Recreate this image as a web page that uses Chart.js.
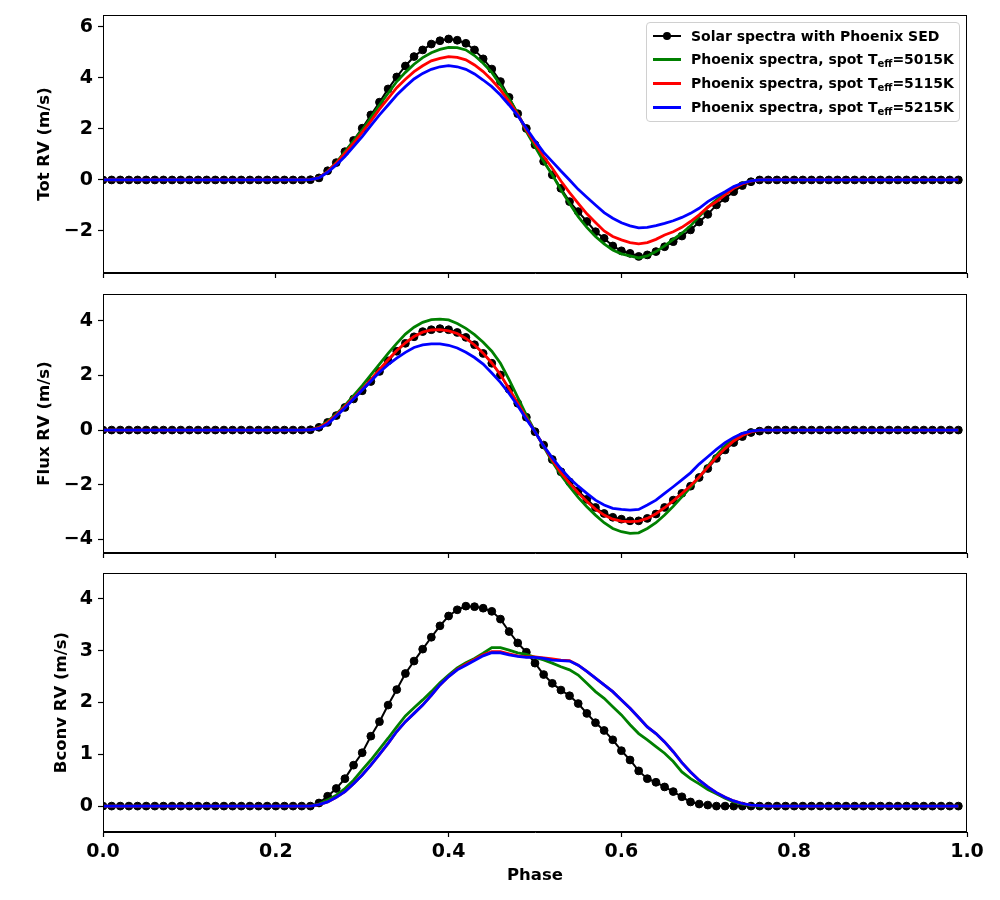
<!DOCTYPE html>
<html>
<head>
<meta charset="utf-8">
<title>Phase RV curves</title>
<script src="https://cdn.jsdelivr.net/npm/chart.js@4.4.0/dist/chart.umd.min.js"></script>
<style>
    html, body { margin: 0; padding: 0; background: #fff; }
    #figure { position: relative; width: 1000px; height: 900px; overflow: hidden; }
    #figure canvas { position: absolute; left: 0; }
    #legend {
        position: absolute; left: 646px; top: 22px; width: 314px; height: 100px;
        border: 1px solid #d0d0d0; border-radius: 4px; background: rgba(255,255,255,0.85);
        font-family: 'DejaVu Sans', sans-serif; font-weight: bold; font-size: 14px; color: #000;
        box-sizing: border-box; z-index: 5;
    }
    #legend .row { position: absolute; left: 6px; height: 20px; line-height: 20px; white-space: nowrap; }
    #legend .handle { display: inline-block; position: relative; width: 28px; height: 3px; vertical-align: middle; margin-right: 10px; top: -1px; }
    #legend .dot { position: absolute; left: 10px; top: -3px; width: 8px; height: 8px; border-radius: 50%; background: #000; }
    #legend sub { font-size: 10px; vertical-align: -3px; }
</style>
</head>
<body>
<div id="figure">
    <canvas id="totChart" width="1000" height="295" style="top:-5px"></canvas>
    <canvas id="fluxChart" width="1000" height="295" style="top:275px"></canvas>
    <canvas id="bconvChart" width="1000" height="345" style="top:555px"></canvas>
    <div id="legend">
        <div class="row" style="top:3px"><span class="handle" style="background:#000;height:2px"><span class="dot"></span></span>Solar spectra with Phoenix SED</div>
        <div class="row" style="top:26px"><span class="handle" style="background:#008000"></span>Phoenix spectra, spot T<sub>eff</sub>=5015K</div>
        <div class="row" style="top:50px"><span class="handle" style="background:#ff0000"></span>Phoenix spectra, spot T<sub>eff</sub>=5115K</div>
        <div class="row" style="top:74px"><span class="handle" style="background:#0000ff"></span>Phoenix spectra, spot T<sub>eff</sub>=5215K</div>
    </div>
</div>
<script>
// phase grid (x values)
const phase = [
    0.00, 0.01, 0.02, 0.03, 0.04, 0.05, 0.06, 0.07, 0.08, 0.09,
    0.10, 0.11, 0.12, 0.13, 0.14, 0.15, 0.16, 0.17, 0.18, 0.19,
    0.20, 0.21, 0.22, 0.23, 0.24, 0.25, 0.26, 0.27, 0.28, 0.29,
    0.30, 0.31, 0.32, 0.33, 0.34, 0.35, 0.36, 0.37, 0.38, 0.39,
    0.40, 0.41, 0.42, 0.43, 0.44, 0.45, 0.46, 0.47, 0.48, 0.49,
    0.50, 0.51, 0.52, 0.53, 0.54, 0.55, 0.56, 0.57, 0.58, 0.59,
    0.60, 0.61, 0.62, 0.63, 0.64, 0.65, 0.66, 0.67, 0.68, 0.69,
    0.70, 0.71, 0.72, 0.73, 0.74, 0.75, 0.76, 0.77, 0.78, 0.79,
    0.80, 0.81, 0.82, 0.83, 0.84, 0.85, 0.86, 0.87, 0.88, 0.89,
    0.90, 0.91, 0.92, 0.93, 0.94, 0.95, 0.96, 0.97, 0.98, 0.99
];

// Tot RV (m/s)
const totSolar = [
    0, 0, 0, 0, 0, 0, 0, 0, 0, 0,
    0, 0, 0, 0, 0, 0, 0, 0, 0, 0,
    0, 0, 0, 0, 0.01, 0.08, 0.36, 0.68, 1.11, 1.55,
    2.03, 2.55, 3.05, 3.57, 4.04, 4.47, 4.84, 5.10, 5.33, 5.46,
    5.53, 5.48, 5.36, 5.10, 4.75, 4.35, 3.86, 3.24, 2.60, 2.02,
    1.38, 0.73, 0.20, -0.33, -0.85, -1.24, -1.63, -2.03, -2.29, -2.59,
    -2.78, -2.88, -3.00, -2.94, -2.81, -2.62, -2.42, -2.20, -1.96, -1.65,
    -1.35, -0.98, -0.72, -0.46, -0.22, -0.07, 0, 0, 0, 0,
    0, 0, 0, 0, 0, 0, 0, 0, 0, 0,
    0, 0, 0, 0, 0, 0, 0, 0, 0, 0
];
const totSpot5015 = [
    0, 0, 0, 0, 0, 0, 0, 0, 0, 0,
    0, 0, 0, 0, 0, 0, 0, 0, 0, 0,
    0, 0, 0, 0, 0.01, 0.10, 0.33, 0.68, 1.11, 1.53,
    1.96, 2.44, 2.94, 3.40, 3.86, 4.22, 4.54, 4.80, 4.99, 5.12,
    5.20, 5.19, 5.10, 4.88, 4.58, 4.22, 3.73, 3.20, 2.61, 1.90,
    1.31, 0.72, 0.20, -0.39, -0.92, -1.44, -1.86, -2.22, -2.51, -2.75,
    -2.90, -2.98, -3.06, -2.98, -2.81, -2.59, -2.33, -2.09, -1.80, -1.44,
    -1.07, -0.78, -0.52, -0.29, -0.13, -0.04, 0, 0, 0, 0,
    0, 0, 0, 0, 0, 0, 0, 0, 0, 0,
    0, 0, 0, 0, 0, 0, 0, 0, 0, 0
];
const totSpot5115 = [
    0, 0, 0, 0, 0, 0, 0, 0, 0, 0,
    0, 0, 0, 0, 0, 0, 0, 0, 0, 0,
    0, 0, 0, 0, 0.01, 0.09, 0.33, 0.66, 1.05, 1.44,
    1.87, 2.31, 2.78, 3.20, 3.62, 3.95, 4.25, 4.48, 4.67, 4.77,
    4.84, 4.81, 4.71, 4.51, 4.25, 3.92, 3.53, 3.07, 2.58, 1.96,
    1.44, 0.92, 0.46, -0.04, -0.50, -0.92, -1.33, -1.67, -2.00, -2.22,
    -2.35, -2.46, -2.51, -2.46, -2.33, -2.16, -2.03, -1.86, -1.63, -1.37,
    -1.07, -0.85, -0.59, -0.33, -0.16, -0.05, 0, 0, 0, 0,
    0, 0, 0, 0, 0, 0, 0, 0, 0, 0,
    0, 0, 0, 0, 0, 0, 0, 0, 0, 0
];
const totSpot5215 = [
    0, 0, 0, 0, 0, 0, 0, 0, 0, 0,
    0, 0, 0, 0, 0, 0, 0, 0, 0, 0,
    0, 0, 0, 0, 0.01, 0.08, 0.30, 0.59, 0.92, 1.31,
    1.70, 2.13, 2.55, 2.94, 3.33, 3.66, 3.96, 4.18, 4.34, 4.44,
    4.48, 4.44, 4.34, 4.16, 3.92, 3.66, 3.33, 2.94, 2.52, 2.03,
    1.54, 1.08, 0.72, 0.35, 0.00, -0.37, -0.68, -0.98, -1.28, -1.50,
    -1.68, -1.80, -1.88, -1.86, -1.79, -1.70, -1.60, -1.47, -1.31, -1.11,
    -0.85, -0.65, -0.46, -0.26, -0.13, -0.04, 0, 0, 0, 0,
    0, 0, 0, 0, 0, 0, 0, 0, 0, 0,
    0, 0, 0, 0, 0, 0, 0, 0, 0, 0
];

// Flux RV (m/s)
const fluxSolar = [
    0, 0, 0, 0, 0, 0, 0, 0, 0, 0,
    0, 0, 0, 0, 0, 0, 0, 0, 0, 0,
    0, 0, 0, 0, 0.01, 0.10, 0.28, 0.53, 0.83, 1.14,
    1.44, 1.78, 2.15, 2.54, 2.89, 3.18, 3.42, 3.61, 3.68, 3.72,
    3.68, 3.58, 3.40, 3.13, 2.81, 2.45, 2.02, 1.50, 0.98, 0.47,
    -0.06, -0.55, -1.08, -1.53, -1.90, -2.23, -2.54, -2.84, -3.06, -3.20,
    -3.27, -3.33, -3.33, -3.24, -3.08, -2.84, -2.57, -2.32, -2.06, -1.74,
    -1.41, -1.04, -0.73, -0.46, -0.24, -0.09, -0.04, 0, 0, 0,
    0, 0, 0, 0, 0, 0, 0, 0, 0, 0,
    0, 0, 0, 0, 0, 0, 0, 0, 0, 0
];
const fluxSpot5015 = [
    0, 0, 0, 0, 0, 0, 0, 0, 0, 0,
    0, 0, 0, 0, 0, 0, 0, 0, 0, 0,
    0, 0, 0, 0, 0.01, 0.10, 0.32, 0.59, 0.90, 1.26,
    1.63, 2.02, 2.42, 2.81, 3.18, 3.52, 3.77, 3.95, 4.05, 4.07,
    4.04, 3.91, 3.73, 3.50, 3.22, 2.89, 2.45, 1.85, 1.20, 0.55,
    -0.05, -0.61, -1.16, -1.65, -2.08, -2.47, -2.81, -3.12, -3.40, -3.61,
    -3.73, -3.79, -3.77, -3.61, -3.40, -3.12, -2.80, -2.45, -2.10, -1.74,
    -1.32, -0.92, -0.58, -0.32, -0.13, -0.04, 0, 0, 0, 0,
    0, 0, 0, 0, 0, 0, 0, 0, 0, 0,
    0, 0, 0, 0, 0, 0, 0, 0, 0, 0
];
const fluxSpot5115 = [
    0, 0, 0, 0, 0, 0, 0, 0, 0, 0,
    0, 0, 0, 0, 0, 0, 0, 0, 0, 0,
    0, 0, 0, 0, 0.01, 0.09, 0.28, 0.55, 0.86, 1.18,
    1.50, 1.85, 2.22, 2.58, 2.92, 3.20, 3.43, 3.59, 3.67, 3.68,
    3.64, 3.54, 3.36, 3.12, 2.82, 2.46, 2.03, 1.52, 0.98, 0.45,
    -0.07, -0.58, -1.10, -1.56, -1.95, -2.30, -2.62, -2.90, -3.12, -3.27,
    -3.34, -3.36, -3.34, -3.24, -3.07, -2.85, -2.60, -2.33, -2.04, -1.72,
    -1.36, -1.00, -0.68, -0.40, -0.20, -0.07, 0, 0, 0, 0,
    0, 0, 0, 0, 0, 0, 0, 0, 0, 0,
    0, 0, 0, 0, 0, 0, 0, 0, 0, 0
];
const fluxSpot5215 = [
    0, 0, 0, 0, 0, 0, 0, 0, 0, 0,
    0, 0, 0, 0, 0, 0, 0, 0, 0, 0,
    0, 0, 0, 0, 0.01, 0.06, 0.22, 0.51, 0.81, 1.14,
    1.47, 1.79, 2.12, 2.40, 2.64, 2.85, 3.03, 3.12, 3.16, 3.16,
    3.11, 3.01, 2.85, 2.66, 2.42, 2.09, 1.75, 1.34, 0.89, 0.40,
    -0.06, -0.58, -1.02, -1.42, -1.77, -2.06, -2.32, -2.57, -2.75, -2.87,
    -2.91, -2.94, -2.91, -2.75, -2.57, -2.32, -2.08, -1.83, -1.57, -1.25,
    -0.98, -0.71, -0.46, -0.27, -0.12, -0.04, 0, 0, 0, 0,
    0, 0, 0, 0, 0, 0, 0, 0, 0, 0,
    0, 0, 0, 0, 0, 0, 0, 0, 0, 0
];

// Bconv RV (m/s)
const bconvSolar = [
    0, 0, 0, 0, 0, 0, 0, 0, 0, 0,
    0, 0, 0, 0, 0, 0, 0, 0, 0, 0,
    0, 0, 0, 0, 0, 0.06, 0.19, 0.34, 0.53, 0.79,
    1.03, 1.35, 1.63, 1.95, 2.25, 2.56, 2.80, 3.03, 3.26, 3.48,
    3.67, 3.79, 3.86, 3.85, 3.82, 3.76, 3.61, 3.37, 3.15, 2.97,
    2.76, 2.54, 2.37, 2.24, 2.13, 1.98, 1.79, 1.61, 1.46, 1.28,
    1.07, 0.89, 0.68, 0.53, 0.46, 0.37, 0.28, 0.18, 0.08, 0.04,
    0.02, 0, 0, 0, 0, 0, 0, 0, 0, 0,
    0, 0, 0, 0, 0, 0, 0, 0, 0, 0,
    0, 0, 0, 0, 0, 0, 0, 0, 0, 0
];
const bconvSpot5015 = [
    0, 0, 0, 0, 0, 0, 0, 0, 0, 0,
    0, 0, 0, 0, 0, 0, 0, 0, 0, 0,
    0, 0, 0, 0, 0, 0.04, 0.12, 0.21, 0.34, 0.50,
    0.70, 0.89, 1.10, 1.31, 1.53, 1.74, 1.90, 2.05, 2.21, 2.38,
    2.53, 2.67, 2.77, 2.85, 2.95, 3.06, 3.06, 3.01, 2.96, 2.93,
    2.87, 2.82, 2.76, 2.69, 2.63, 2.53, 2.37, 2.21, 2.08, 1.92,
    1.76, 1.57, 1.40, 1.28, 1.15, 1.02, 0.86, 0.66, 0.53, 0.43,
    0.32, 0.24, 0.15, 0.08, 0.04, 0.01, 0, 0, 0, 0,
    0, 0, 0, 0, 0, 0, 0, 0, 0, 0,
    0, 0, 0, 0, 0, 0, 0, 0, 0, 0
];
const bconvSpot5115 = [
    0, 0, 0, 0, 0, 0, 0, 0, 0, 0,
    0, 0, 0, 0, 0, 0, 0, 0, 0, 0,
    0, 0, 0, 0, 0, 0.03, 0.08, 0.17, 0.28, 0.43,
    0.60, 0.79, 1.00, 1.21, 1.44, 1.63, 1.79, 1.95, 2.14, 2.34,
    2.50, 2.64, 2.74, 2.83, 2.92, 2.98, 2.98, 2.94, 2.90, 2.88,
    2.88, 2.86, 2.84, 2.82, 2.81, 2.72, 2.60, 2.47, 2.34, 2.21,
    2.05, 1.89, 1.71, 1.53, 1.40, 1.24, 1.05, 0.84, 0.66, 0.50,
    0.37, 0.26, 0.17, 0.10, 0.05, 0.02, 0.01, 0, 0, 0,
    0, 0, 0, 0, 0, 0, 0, 0, 0, 0,
    0, 0, 0, 0, 0, 0, 0, 0, 0, 0
];
const bconvSpot5215 = [
    0, 0, 0, 0, 0, 0, 0, 0, 0, 0,
    0, 0, 0, 0, 0, 0, 0, 0, 0, 0,
    0, 0, 0, 0, 0, 0.03, 0.08, 0.17, 0.28, 0.43,
    0.60, 0.79, 1.00, 1.21, 1.44, 1.63, 1.79, 1.95, 2.14, 2.34,
    2.50, 2.63, 2.72, 2.81, 2.90, 2.96, 2.96, 2.92, 2.89, 2.87,
    2.87, 2.85, 2.82, 2.81, 2.80, 2.72, 2.60, 2.47, 2.34, 2.21,
    2.05, 1.89, 1.71, 1.53, 1.40, 1.24, 1.05, 0.84, 0.66, 0.50,
    0.37, 0.26, 0.17, 0.10, 0.05, 0.02, 0.01, 0, 0, 0,
    0, 0, 0, 0, 0, 0, 0, 0, 0, 0,
    0, 0, 0, 0, 0, 0, 0, 0, 0, 0
];

// tick labels
const xTicks = [0.0, 0.2, 0.4, 0.6, 0.8, 1.0];
const totTicks = [-2, 0, 2, 4, 6];
const fluxTicks = [-4, -2, 0, 2, 4];
const bconvTicks = [0, 1, 2, 3, 4];

const seriesLabels = [
    'Solar spectra with Phoenix SED',
    'Phoenix spectra, spot Teff=5015K',
    'Phoenix spectra, spot Teff=5115K',
    'Phoenix spectra, spot Teff=5215K'
];

// draws the full box around the plot area, like matplotlib spines
const framePlugin = {
    id: 'frame',
    afterDraw(chart) {
        const { ctx, chartArea: a } = chart;
        ctx.save();
        ctx.strokeStyle = '#000';
        ctx.lineWidth = 1;
        ctx.strokeRect(Math.round(a.left) + 0.5, Math.round(a.top) + 0.5,
            Math.round(a.right - a.left) - 1, Math.round(a.bottom - a.top) - 1);
        ctx.restore();
    }
};

class PhaseFigure {
    constructor() {
        this.charts = new Map();
        this.colors = {
            solar: '#000000',
            spot5015: '#008000',
            spot5115: '#ff0000',
            spot5215: '#0000ff'
        };
        Chart.defaults.font.family = "'DejaVu Sans', sans-serif";
        Chart.defaults.font.weight = 'bold';
        Chart.defaults.color = '#000';

        // canvases start a little above each plot box, so padTop is what sets the box top
        this.createPanel('tot', 'totChart', {
            series: [totSolar, totSpot5015, totSpot5115, totSpot5215],
            yMin: -3.65, yMax: 6.47, yTicks: totTicks,
            yTitle: 'Tot RV (m/s)', titlePad: 35,
            padTop: 20, xHeight: 17, showX: false
        });
        this.createPanel('flux', 'fluxChart', {
            series: [fluxSolar, fluxSpot5015, fluxSpot5115, fluxSpot5215],
            yMin: -4.51, yMax: 4.99, yTicks: fluxTicks,
            yTitle: 'Flux RV (m/s)', titlePad: 35,
            padTop: 19, xHeight: 17, showX: false
        });
        this.createPanel('bconv', 'bconvChart', {
            series: [bconvSolar, bconvSpot5015, bconvSpot5115, bconvSpot5215],
            yMin: -0.5, yMax: 4.5, yTicks: bconvTicks,
            yTitle: 'Bconv RV (m/s)', titlePad: 52,
            padTop: 18, xHeight: 68, showX: true
        });
    }

    buildDatasets(series) {
        const keys = ['solar', 'spot5015', 'spot5115', 'spot5215'];
        return series.map((values, i) => {
            const isSolar = i === 0;
            return {
                label: seriesLabels[i],
                data: phase.map((p, j) => ({ x: p, y: values[j] })),
                borderColor: this.colors[keys[i]],
                backgroundColor: this.colors[keys[i]],
                borderWidth: isSolar ? 2 : 2.8,
                pointRadius: isSolar ? 3.9 : 0,
                pointBorderWidth: isSolar ? 1 : 0,
                tension: 0,
                clip: 0,
                order: 4 - i // solar underneath, 5215K on top
            };
        });
    }

    createPanel(key, canvasId, cfg) {
        const ctx = document.getElementById(canvasId).getContext('2d');
        const minus = v => String(v).replace('-', '\u2212');
        this.charts.set(key, new Chart(ctx, {
            type: 'line',
            data: { datasets: this.buildDatasets(cfg.series) },
            options: {
                responsive: false,
                animation: false,
                events: [],
                layout: { padding: { top: cfg.padTop, right: 33, left: 0, bottom: 0 } },
                plugins: {
                    legend: { display: false },
                    tooltip: { enabled: false }
                },
                scales: {
                    x: {
                        type: 'linear',
                        min: 0,
                        max: 1,
                        afterBuildTicks: scale => { scale.ticks = xTicks.map(v => ({ value: v })); },
                        afterFit: scale => { scale.height = cfg.xHeight; },
                        border: { display: true, color: '#000', width: 1 },
                        grid: { drawOnChartArea: false, drawTicks: true, tickLength: 5, tickColor: '#000', tickWidth: 1.2 },
                        ticks: {
                            display: cfg.showX,
                            padding: 4,
                            font: { size: 19, weight: 'bold' },
                            callback: v => v.toFixed(1)
                        },
                        title: {
                            display: cfg.showX,
                            text: 'Phase',
                            font: { size: 16.5, weight: 'bold' },
                            padding: { top: 0, bottom: 14 }
                        }
                    },
                    y: {
                        min: cfg.yMin,
                        max: cfg.yMax,
                        afterBuildTicks: scale => { scale.ticks = cfg.yTicks.map(v => ({ value: v })); },
                        afterFit: scale => { scale.width = 103; },
                        border: { display: true, color: '#000', width: 1 },
                        grid: { drawOnChartArea: false, drawTicks: true, tickLength: 5, tickColor: '#000', tickWidth: 1.2 },
                        ticks: {
                            padding: 5,
                            font: { size: 19, weight: 'bold' },
                            callback: minus
                        },
                        title: {
                            display: true,
                            text: cfg.yTitle,
                            font: { size: 16.5, weight: 'bold' },
                            padding: { top: cfg.titlePad, bottom: 0 }
                        }
                    }
                }
            },
            plugins: [framePlugin]
        }));
    }
}

window.phaseFigure = new PhaseFigure();
</script>
</body>
</html>
